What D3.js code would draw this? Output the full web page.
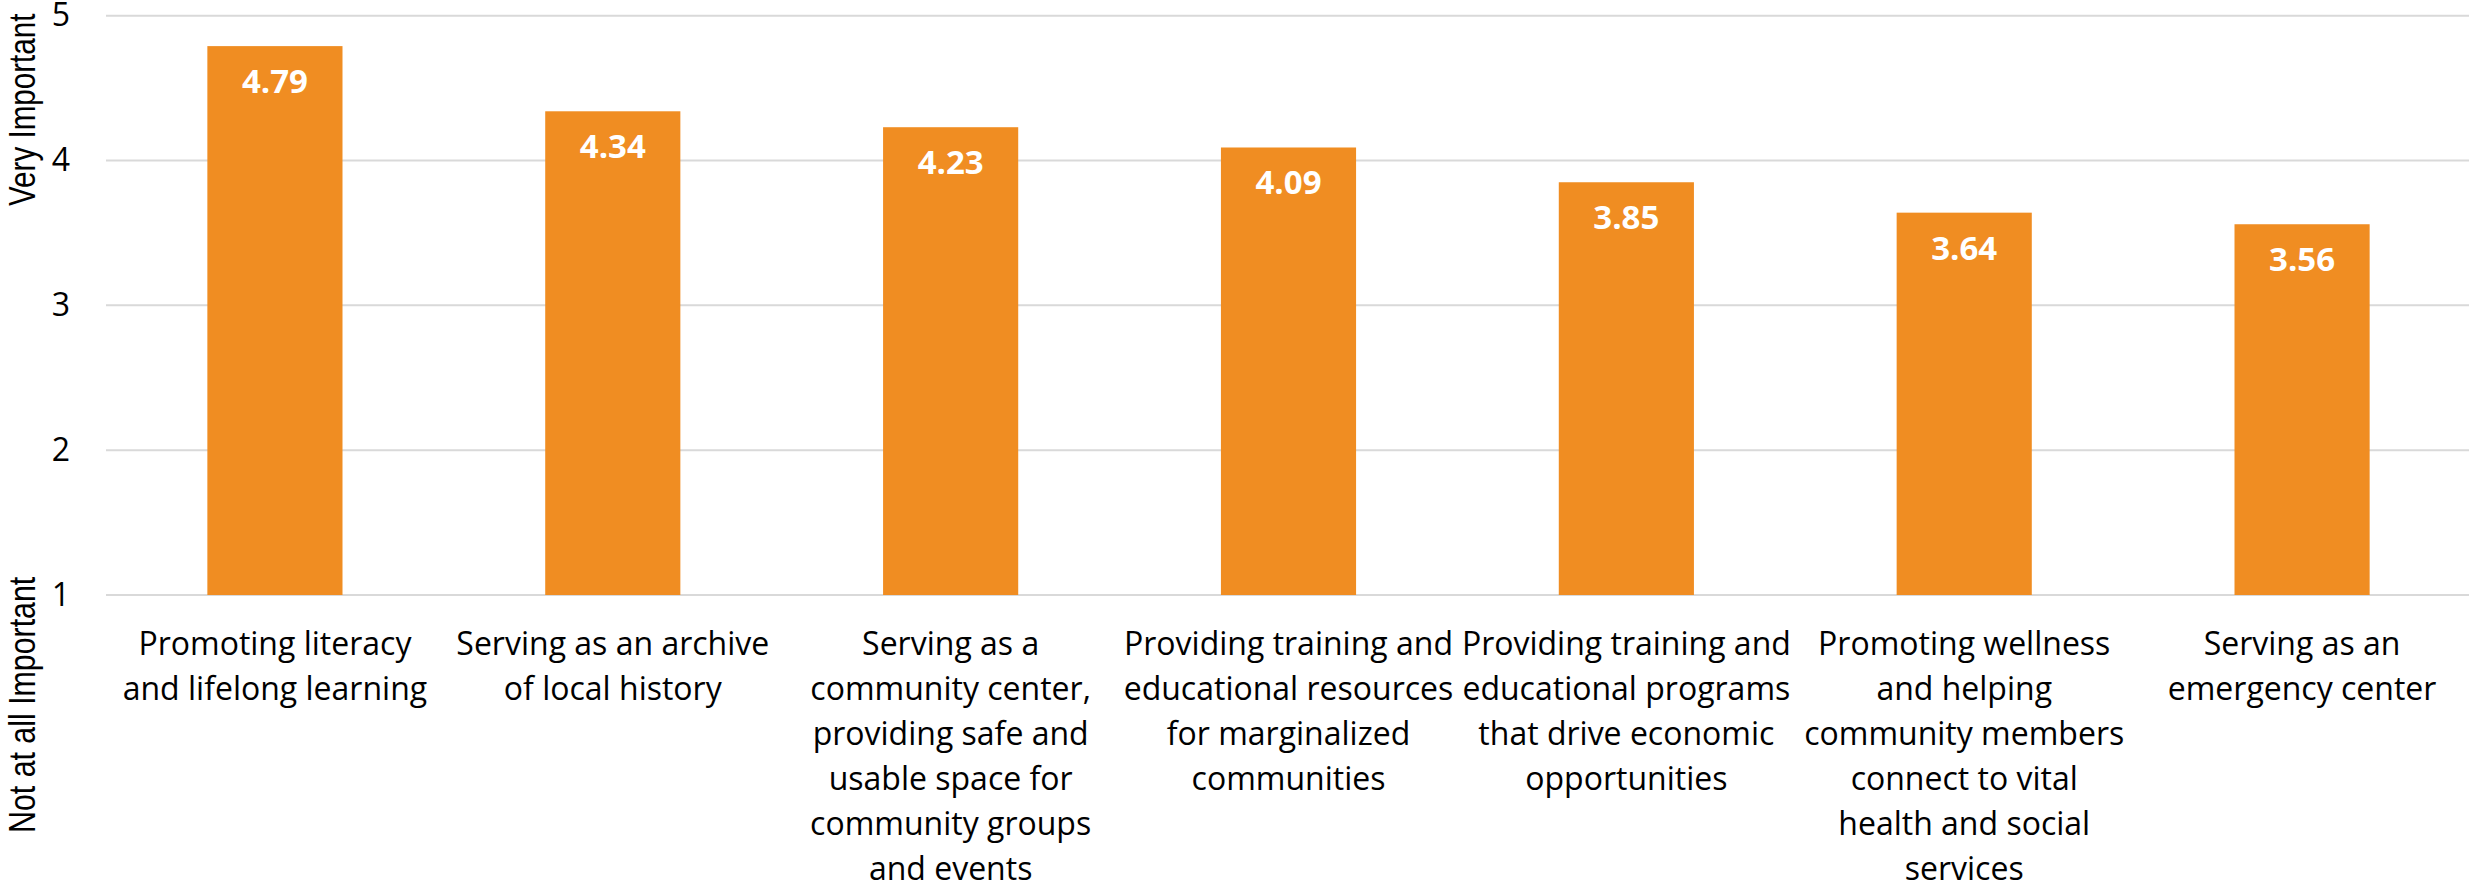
<!DOCTYPE html>
<html>
<head>
<meta charset="utf-8">
<script src="https://cdn.jsdelivr.net/npm/d3@7"></script>
<style>
  html, body { margin: 0; padding: 0; background: #ffffff; }
  svg { display: block; }
</style>
</head>
<body>
<svg id="chart" width="2469" height="888"></svg>
<script>
// Mean importance rating (1 = not at all important, 5 = very important)
const categories = [
  ["Promoting literacy", "and lifelong learning"],
  ["Serving as an archive", "of local history"],
  ["Serving as a", "community center,", "providing safe and", "usable space for", "community groups", "and events"],
  ["Providing training and", "educational resources", "for marginalized", "communities"],
  ["Providing training and", "educational programs", "that drive economic", "opportunities"],
  ["Promoting wellness", "and helping", "community members", "connect to vital", "health and social", "services"],
  ["Serving as an", "emergency center"]
];
const ratings = [4.79, 4.34, 4.23, 4.09, 3.85, 3.64, 3.56];
const yTicks = [1, 2, 3, 4, 5];
const axisTitleTop = "Very Important";
const axisTitleBottom = "Not at all Important";

const W = 2469, H = 888;
const margin = { left: 106, right: -2, top: 15.7, bottom: 293 };
const svg = d3.select("#chart");

const idx = categories.map((d, i) => i);
const x = d3.scaleBand()
  .domain(idx)
  .range([margin.left, W - margin.right])
  .paddingInner(0.6)
  .paddingOuter(0.3);

const y = d3.scaleLinear()
  .domain([1, 5])
  .range([H - margin.bottom, margin.top]);

const textFont = "'Open Sans', 'Noto Sans', sans-serif";

// horizontal gridlines
svg.append("g")
  .selectAll("line")
  .data(yTicks)
  .join("line")
  .attr("x1", margin.left)
  .attr("x2", W)
  .attr("y1", d => y(d))
  .attr("y2", d => y(d))
  .attr("stroke", "#d9d9d9")
  .attr("stroke-width", 2);

// y axis labels
const yAxis = d3.axisLeft(y)
  .tickValues(yTicks)
  .tickFormat(d3.format("d"))
  .tickSize(0)
  .tickPadding(36);
const yg = svg.append("g")
  .attr("transform", `translate(${margin.left},0)`)
  .call(yAxis);
yg.select(".domain").remove();
yg.selectAll("text")
  .attr("font-family", textFont)
  .attr("font-size", 32)
  .attr("fill", "#000000");

// bars
svg.append("g")
  .selectAll("rect")
  .data(ratings)
  .join("rect")
  .attr("x", (d, i) => x(i))
  .attr("width", x.bandwidth())
  .attr("y", d => y(d))
  .attr("height", d => y(1) - y(d))
  .attr("fill", "#f08d22");

// value labels inside bars
svg.append("g")
  .selectAll("text")
  .data(ratings)
  .join("text")
  .attr("x", (d, i) => x(i) + x.bandwidth() / 2)
  .attr("y", d => y(d) + 47)
  .attr("text-anchor", "middle")
  .attr("font-family", textFont)
  .attr("font-weight", "bold")
  .attr("font-size", 33)
  .attr("fill", "#ffffff")
  .text(d => d.toFixed(2));

// category labels
const xg = svg.append("g");
categories.forEach((lines, i) => {
  const t = xg.append("text")
    .attr("x", x(i) + x.bandwidth() / 2)
    .attr("y", 655)
    .attr("text-anchor", "middle")
    .attr("font-family", textFont)
    .attr("font-size", 32)
    .attr("fill", "#000000");
  lines.forEach((line, j) => {
    t.append("tspan")
      .attr("x", x(i) + x.bandwidth() / 2)
      .attr("y", 655 + j * 45)
      .text(line);
  });
});

// rotated axis titles, horizontally condensed
const titleFont = "'Liberation Sans', Arial, sans-serif";
svg.append("text")
  .attr("transform", "translate(35,206) rotate(-90) scale(0.8,1)")
  .attr("text-anchor", "start")
  .attr("font-family", titleFont)
  .attr("font-size", 37)
  .attr("fill", "#000000")
  .text(axisTitleTop);
svg.append("text")
  .attr("transform", "translate(35,833) rotate(-90) scale(0.82,1)")
  .attr("text-anchor", "start")
  .attr("font-family", titleFont)
  .attr("font-size", 37)
  .attr("fill", "#000000")
  .text(axisTitleBottom);
</script>
</body>
</html>
